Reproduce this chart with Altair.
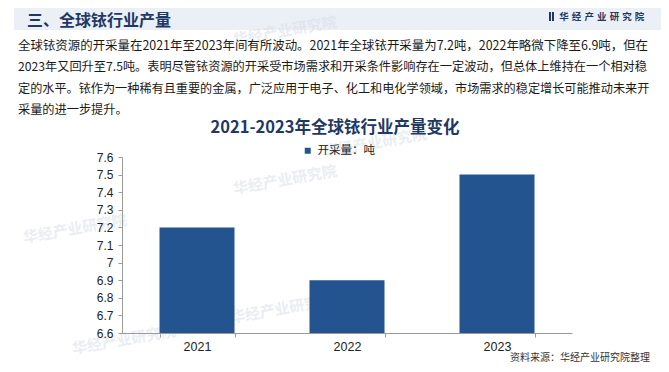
import altair as alt
import pandas as pd

# ---- data ----
years = ["2021", "2022", "2023"]
output = [7.2, 6.9, 7.5]
series_name = "开采量：吨"
y_ticks = [6.6, 6.7, 6.8, 6.9, 7.0, 7.1, 7.2, 7.3, 7.4, 7.5, 7.6]

header_title = "三、全球铱行业产量"
brand = "华经产业研究院"
chart_title = "2021-2023年全球铱行业产量变化"
paragraph = [
    "全球铱资源的开采量在2021年至2023年间有所波动。2021年全球铱开采量为7.2吨，2022年略微下降至6.9吨，但在",
    "2023年又回升至7.5吨。表明尽管铱资源的开采受市场需求和开采条件影响存在一定波动，但总体上维持在一个相对稳",
    "定的水平。铱作为一种稀有且重要的金属，广泛应用于电子、化工和电化学领域，市场需求的稳定增长可能推动未来开",
    "采量的进一步提升。",
]
paragraph_sizes = [12.45, 12.2, 12.15, 12.2]
source = "资料来源：华经产业研究院整理"

NAVY = "#1f3864"
BAR = "#23548f"
CJK = "Noto Sans CJK SC"
LAT = "Liberation Sans"

one = pd.DataFrame({"a": [0]})


def txt(text, x, y, size, color, weight="normal", align="left", font=CJK,
        baseline="middle", angle=0, opacity=1.0):
    return alt.Chart(pd.DataFrame({"t": [text]})).mark_text(
        align=align, baseline=baseline, fontSize=size, font=font,
        fontWeight=weight, color=color, angle=angle, opacity=opacity
    ).encode(text="t:N", x=alt.value(x), y=alt.value(y))


def box(x, x2, y, y2, color, opacity=1.0):
    return alt.Chart(one).mark_rect(color=color, opacity=opacity).encode(
        x=alt.value(x), x2=alt.value(x2), y=alt.value(y), y2=alt.value(y2))


layers = []
# header band
layers.append(box(-108, 545, -149, -127, "#ebf0f7"))

# faint watermarks
for (wx, wy) in [(163, -126), (253, -14), (163, 23), (-47, 72), (2, 183), (160, 152)]:
    layers.append(txt(brand, wx, wy, 15, "#d9dfe8", weight="bold", align="center",
                      angle=350, opacity=0.55))

# header title & brand (letter-spaced)
layers.append(txt(header_title, -95, -136.5, 16, NAVY, weight="bold"))
layers.append(box(427, 429, -145, -136, NAVY))
layers.append(box(430, 432, -145, -136, NAVY))
for i, ch in enumerate(brand):
    layers.append(txt(ch, 442 + i * 12.6, -140, 9.5, NAVY, weight="bold", align="center"))

# paragraph
for i, line in enumerate(paragraph):
    layers.append(txt(line, -104, -111 + i * 21.3, paragraph_sizes[i], "#1a1a1a"))

# chart title
layers.append(txt(chart_title, 213, -29, 16.5, NAVY, weight="bold", align="center"))

df = pd.DataFrame({"year": years, "value": output, "series": [series_name] * len(years)})

bars = alt.Chart(df).mark_bar().encode(
    x=alt.X("year:N", sort=years,
            scale=alt.Scale(paddingInner=0.5, paddingOuter=0.25),
            axis=alt.Axis(title=None, labelAngle=0, zindex=1, tickBand="extent",
                          domainColor="#9a9a9a", tickColor="#9a9a9a", tickSize=4,
                          labelFont=LAT, labelFontSize=12.5, labelColor="#222222",
                          labelPadding=3)),
    y=alt.Y("value:Q",
            scale=alt.Scale(domain=[6.6, 7.6], zero=False, nice=False),
            axis=alt.Axis(title=None, values=y_ticks, grid=False, zindex=1,
                          labelExpr="format(datum.value, '.1~f')",
                          domainColor="#9a9a9a", tickColor="#9a9a9a", tickSize=4,
                          labelFont=LAT, labelFontSize=12, labelColor="#222222",
                          labelPadding=5)),
    y2=alt.datum(6.6),
    color=alt.Color("series:N", scale=alt.Scale(range=[BAR]),
                    legend=alt.Legend(orient="none", legendX=180, legendY=-12,
                                      title=None, symbolType="square", symbolSize=36,
                                      labelFont=CJK, labelFontSize=11.5,
                                      labelColor="#222222", symbolStrokeWidth=0)),
)
layers.append(bars)

# source (drawn last)
layers.append(txt(source, 528, 201, 10, "#333333", align="right"))

chart = alt.layer(*layers).properties(
    width=450, height=176,
    padding={"left": 114, "top": 149, "right": 89, "bottom": 31},
    autosize=alt.AutoSizeParams(type="none"),
    background="white",
).configure_view(stroke=None)

chart.save("out.html", embed_options={"renderer": "svg", "actions": False})
